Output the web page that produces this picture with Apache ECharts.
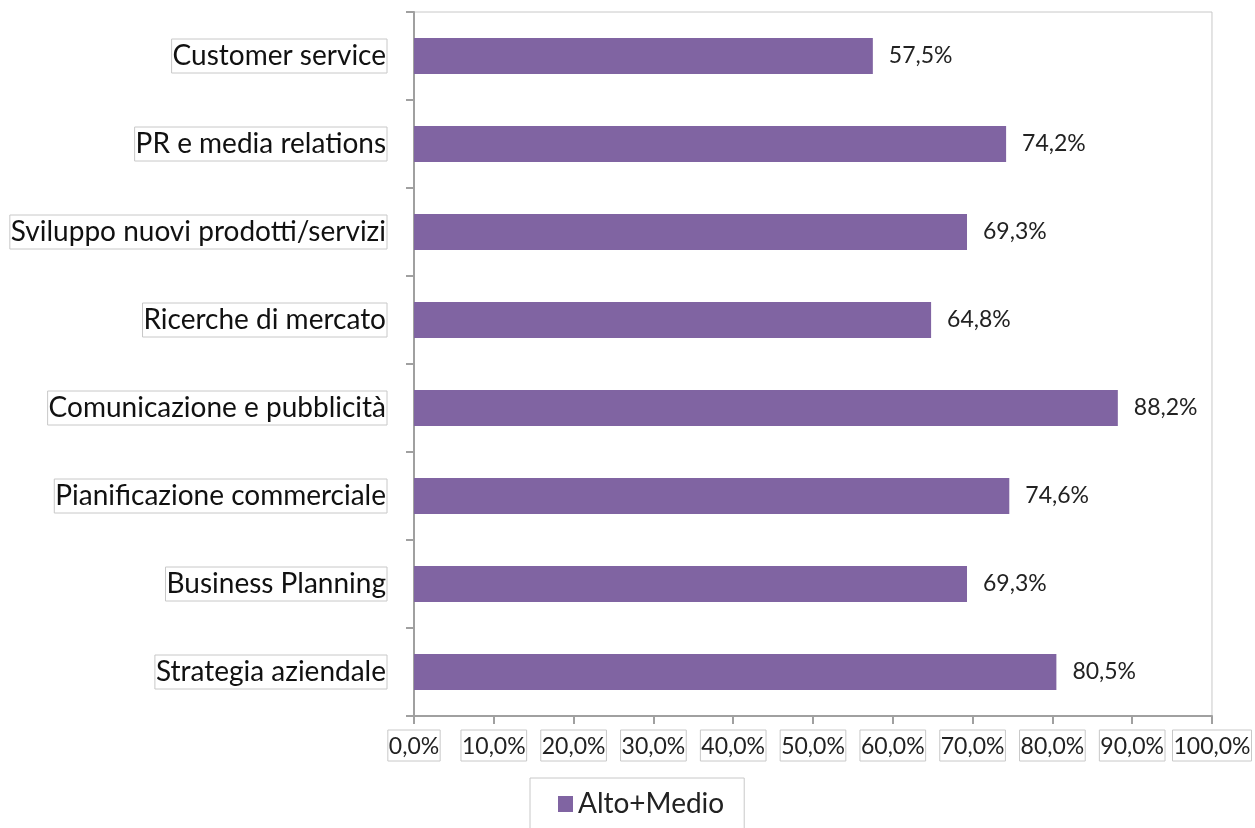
<!DOCTYPE html>
<html>
<head>
<meta charset="utf-8">
<script src="https://cdn.jsdelivr.net/npm/echarts@6/dist/echarts.min.js"></script>
<style>
  html, body { margin: 0; padding: 0; background: #ffffff; }
  #chart { width: 1255px; height: 828px; }
</style>
</head>
<body>
<div id="chart"></div>
<script>
// Areas, listed top to bottom
const categories = [
  'Customer service',
  'PR e media relations',
  'Sviluppo nuovi prodotti/servizi',
  'Ricerche di mercato',
  'Comunicazione e pubblicità',
  'Pianificazione commerciale',
  'Business Planning',
  'Strategia aziendale'
];
// Share of "Alto+Medio" answers, percent
const altoMedio = [57.5, 74.2, 69.3, 64.8, 88.2, 74.6, 69.3, 80.5];
const seriesName = 'Alto+Medio';

const fmtPct = v => v.toFixed(1).replace('.', ',') + '%';
const FONT = 'Lato, "Open Sans", sans-serif';

const chart = echarts.init(document.getElementById('chart'));
chart.setOption({
  animation: false,
  textStyle: { fontFamily: FONT },
  grid: {
    left: 414, right: 41, top: 12, bottom: 112,
    show: true, borderColor: '#c8c8c8', borderWidth: 1
  },
  legend: {
    data: [seriesName],
    left: 530, top: 778,
    padding: [12, 20, 14, 28],
    borderColor: '#c8c8c8', borderWidth: 1,
    itemWidth: 15, itemHeight: 16, itemGap: 12,
    icon: 'rect',
    textStyle: { fontSize: 28, color: '#222', fontFamily: FONT }
  },
  xAxis: {
    type: 'value', min: 0, max: 100, interval: 10,
    axisLine: { show: true, lineStyle: { color: '#a0a0a0', width: 2 } },
    axisTick: { show: true, length: 8, lineStyle: { color: '#a0a0a0', width: 2 } },
    splitLine: { show: false },
    axisLabel: {
      formatter: fmtPct, fontSize: 23, color: '#222', margin: 14,
      borderColor: '#c8c8c8', borderWidth: 1, padding: [5, 1, 3, 1]
    }
  },
  yAxis: {
    type: 'category', data: categories, inverse: true,
    axisLine: { show: true, lineStyle: { color: '#a0a0a0', width: 2 } },
    axisTick: { show: true, length: 8, lineStyle: { color: '#a0a0a0', width: 2 } },
    axisLabel: {
      fontSize: 28, color: '#111', margin: 27,
      borderColor: '#c8c8c8', borderWidth: 1, padding: [4, 1, 2, 1]
    }
  },
  series: [{
    name: seriesName, type: 'bar', data: altoMedio,
    barWidth: 36,
    itemStyle: { color: '#8064A2' },
    label: {
      show: true, position: 'right', distance: 16,
      formatter: p => fmtPct(p.value),
      fontSize: 23, color: '#222', fontFamily: FONT
    }
  }]
});
</script>
</body>
</html>
